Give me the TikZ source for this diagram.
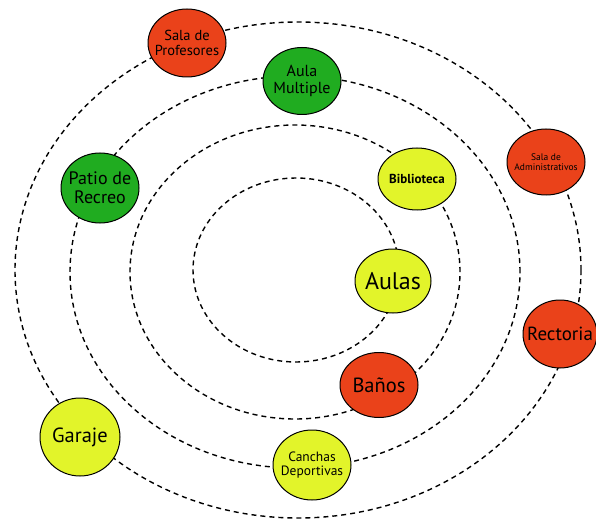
\documentclass[tikz,border=0pt]{standalone}
\usepackage{fontspec}
\setmainfont{PT Sans}
\usetikzlibrary{shapes.geometric}
\definecolor{cred}{RGB}{234,66,26}
\definecolor{cgreen}{RGB}{32,172,32}
\definecolor{cyellow}{RGB}{226,244,42}
\tikzset{
  ring/.style={draw=black, line width=1.4pt, dash pattern=on 5pt off 4pt},
  bubble/.style={ellipse, draw=black, line width=1pt, inner sep=0pt,
    minimum width=78pt, minimum height=68pt},
  redb/.style={bubble, fill=cred},
  greenb/.style={bubble, fill=cgreen},
  yellowb/.style={bubble, fill=cyellow},
  lbl/.style={align=center, inner sep=0pt, text=black},
  fsz/.style={font=\fontsize{#1}{1.08\dimexpr #1pt\relax}\selectfont},
}
\begin{document}
\begin{tikzpicture}[x=1pt,y=-1pt]
\useasboundingbox (0,0) rectangle (596,521);
\fill[white] (0,0) rectangle (596,521);
% rings
\draw[ring] (296,270) ellipse [x radius=103pt, y radius=92pt];
\draw[ring] (295,272) ellipse [x radius=165pt, y radius=147pt];
\draw[ring] (295,272) ellipse [x radius=225pt, y radius=196pt];
\draw[ring] (298,270) ellipse [x radius=283pt, y radius=248pt];
% nodes
\node[redb, label={[lbl, fsz=14.5]center:{Sala de\\Profesores}}] (prof) at (187,43) {};
\node[greenb, minimum height=67pt, label={[lbl, fsz=16]center:{Aula\\Multiple}}] (multi) at (302,81) {};
\node[yellowb, minimum height=62pt, label={[lbl, font=\fontsize{13}{15}\selectfont\bfseries]center:Biblioteca}] (bibl) at (417,179) {};
\node[redb, minimum height=66pt, label={[lbl, fsz=9.5]center:{Sala de\\Administrativos}}] (admin) at (546,162) {};
\node[greenb, minimum height=70pt, label={[lbl, fsz=18]center:{Patio de\\Recreo}}] (patio) at (100,188) {};
\node[yellowb, minimum width=76pt, minimum height=64pt, label={[lbl, fsz=24]center:Aulas}] (aulas) at (393,281) {};
\node[redb, minimum height=65pt, label={[lbl, fsz=20.5]center:Baños}] (banos) at (379,385) {};
\node[redb, minimum width=74pt, label={[lbl, fsz=19]center:Rectoria}] (rect) at (560,334) {};
\node[yellowb, minimum width=80pt, minimum height=78pt, label={[lbl, fsz=20.5]center:Garaje}] (garaje) at (80,437) {};
\node[yellowb, minimum height=70pt, label={[lbl, fsz=13.5]center:{Canchas\\Deportivas}}] (canchas) at (312,465) {};
\end{tikzpicture}
\end{document}
